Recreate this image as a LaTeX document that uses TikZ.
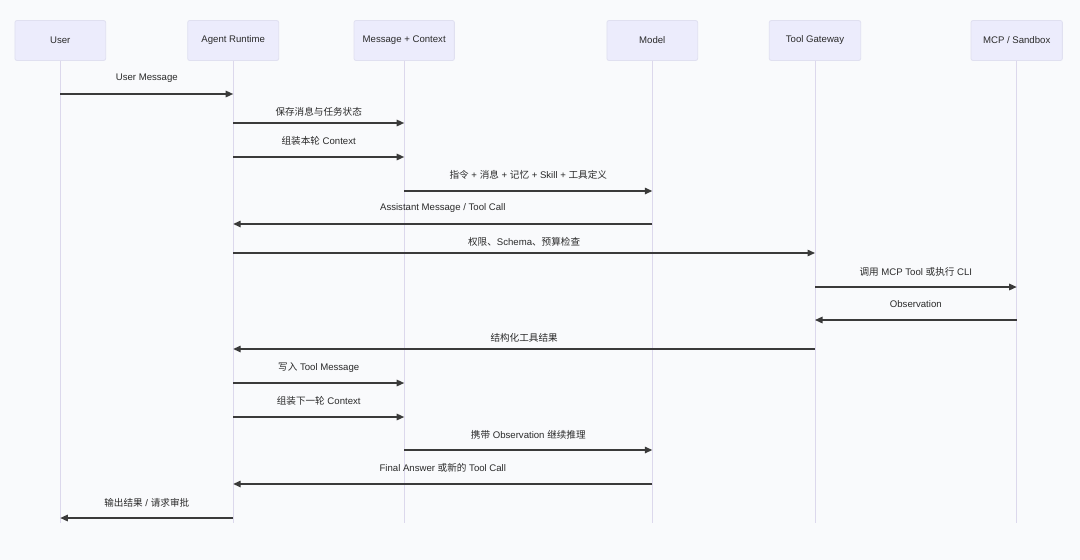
\documentclass[tikz,border=0pt]{standalone}
\usepackage{fontspec}
\setmainfont{Liberation Sans}
\newfontfamily\cjk{Noto Sans CJK SC}
\usetikzlibrary{arrows.meta}
\definecolor{bg}{HTML}{F9FAFC}
\definecolor{boxfill}{HTML}{ECECFC}
\definecolor{boxdraw}{HTML}{E0E0F0}
\definecolor{life}{HTML}{DCD8EC}
\definecolor{arr}{HTML}{3A3A3A}
\definecolor{txt}{HTML}{2A2A2A}
\begin{document}
\begin{tikzpicture}[x=1pt,y=-1pt,
 actor/.style={draw=boxdraw, fill=boxfill, rounded corners=2pt, minimum height=40pt, inner sep=0pt, font=\fontsize{9.6}{11}\selectfont, text=txt, line width=0.8pt},
 lifeline/.style={draw=life, line width=1pt},
 msg/.style={draw=arr, line width=1.4pt, -{Triangle[length=7.5pt,width=6.5pt]}},
 lbl/.style={font=\fontsize{9.6}{11}\selectfont, text=txt, inner sep=0pt}]
\fill[bg] (0,0) rectangle (1080,560);
\useasboundingbox (0,0) rectangle (1080,560);
% actors
\node[actor, minimum width=90.7pt] (user) at (60.3,40.5) {User};
\node[actor, minimum width=91pt] (agent) at (233.2,40.5) {Agent Runtime};
\node[actor, minimum width=100.3pt] (ctx) at (404.2,40.5) {Message + Context};
\node[actor, minimum width=90.7pt] (model) at (652.3,40.5) {Model};
\node[actor, minimum width=91.4pt] (gw) at (815,40.5) {Tool Gateway};
\node[actor, minimum width=91.3pt] (mcp) at (1016.7,40.5) {MCP / Sandbox};
% lifelines
\foreach \n in {user,agent,ctx,model,gw,mcp}{
  \coordinate (\n end) at (\n.south |- 0,523);
  \draw[lifeline] (\n.south) -- (\n end);
}
% messages
\draw[msg] (user.south |- 0,94) -- (agent.south |- 0,94);
\node[lbl] (l1) at (146.8,78) {User Message};
\draw[msg] (agent.south |- 0,123) -- (ctx.south |- 0,123);
\node[lbl] (l2) at (318.7,111.7) {\cjk 保存消息与任务状态};
\draw[msg] (agent.south |- 0,157) -- (ctx.south |- 0,157);
\node[lbl] (l3) at (318.7,141) {{\cjk 组装本轮} Context};
\draw[msg] (ctx.south |- 0,191) -- (model.south |- 0,191);
\node[lbl] (l4) at (528.3,174.7) {{\cjk 指令} + {\cjk 消息} + {\cjk 记忆} + Skill + {\cjk 工具定义}};
\draw[msg] (model.south |- 0,224) -- (agent.south |- 0,224);
\node[lbl] (l5) at (442.8,208.3) {Assistant Message / Tool Call};
\draw[msg] (agent.south |- 0,253) -- (gw.south |- 0,253);
\node[lbl] (l6) at (524.1,241.7) {{\cjk 权限、}Schema{\cjk 、预算检查}};
\draw[msg] (gw.south |- 0,287) -- (mcp.south |- 0,287);
\node[lbl] (l7) at (915.8,271.7) {{\cjk 调用} MCP Tool {\cjk 或执行} CLI};
\draw[msg] (mcp.south |- 0,320) -- (gw.south |- 0,320);
\node[lbl] (l8) at (915.8,304.3) {Observation};
\draw[msg] (gw.south |- 0,349) -- (agent.south |- 0,349);
\node[lbl] (l9) at (524.1,338) {\cjk 结构化工具结果};
\draw[msg] (agent.south |- 0,383) -- (ctx.south |- 0,383);
\node[lbl] (l10) at (318.7,367.3) {{\cjk 写入} Tool Message};
\draw[msg] (agent.south |- 0,417) -- (ctx.south |- 0,417);
\node[lbl] (l11) at (318.7,401.3) {{\cjk 组装下一轮} Context};
\draw[msg] (ctx.south |- 0,450) -- (model.south |- 0,450);
\node[lbl] (l12) at (528.3,435) {{\cjk 携带} Observation {\cjk 继续推理}};
\draw[msg] (model.south |- 0,484) -- (agent.south |- 0,484);
\node[lbl] (l13) at (442.8,468.3) {Final Answer {\cjk 或新的} Tool Call};
\draw[msg] (agent.south |- 0,518) -- (user.south |- 0,518);
\node[lbl] (l14) at (146.8,502.7) {{\cjk 输出结果} / {\cjk 请求审批}};
\end{tikzpicture}
\end{document}
